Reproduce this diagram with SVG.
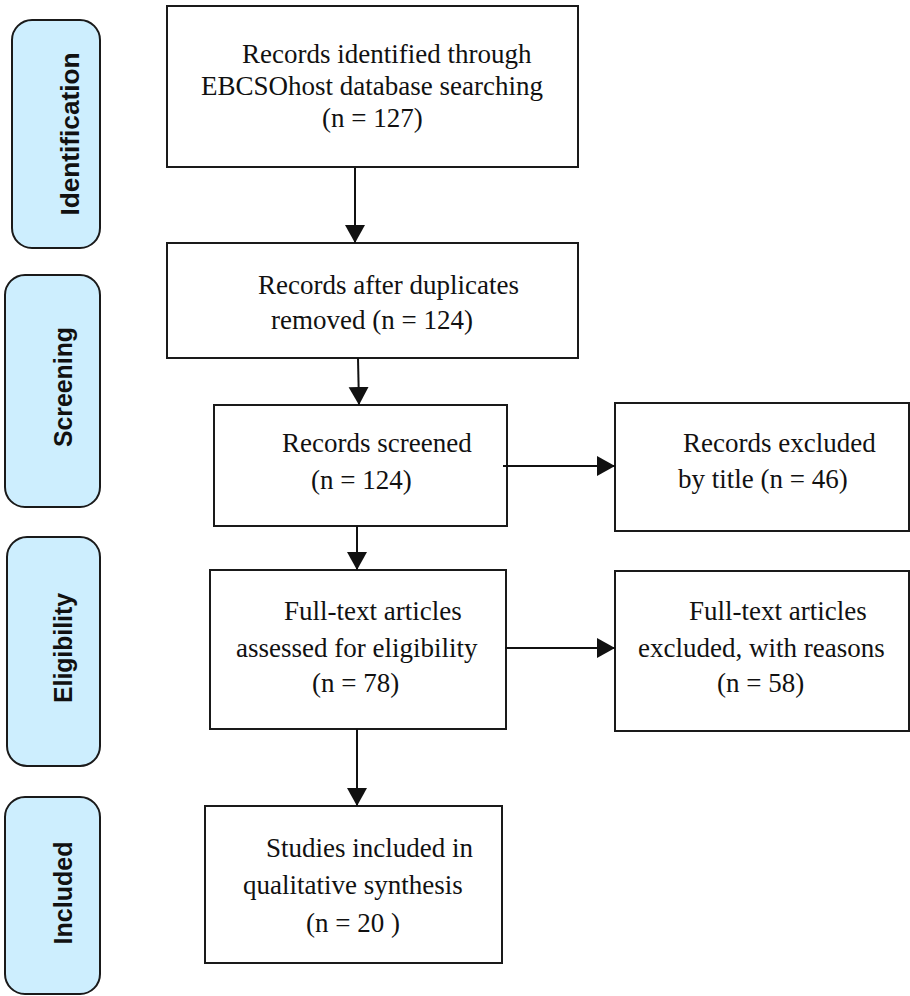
<svg xmlns="http://www.w3.org/2000/svg" width="910" height="996" viewBox="0 0 910 996">
<style>
.box{fill:#fff;stroke:#1a1a1a;stroke-width:2}
.pill{fill:#cdeefe;stroke:#1a1a1a;stroke-width:2}
.t{font-family:"Liberation Serif","Times New Roman",serif;font-size:27px;fill:#111}
.p{font-family:"Liberation Sans",Arial,sans-serif;font-weight:bold;font-size:26px;fill:#111}
.c{stroke:#111;stroke-width:2;fill:none}
</style>
<defs>
<marker id="ah" markerUnits="userSpaceOnUse" markerWidth="20" markerHeight="22" viewBox="0 0 20 22" refX="18" refY="11" orient="auto">
<path d="M0,1 L18,11 L0,21 Z" fill="#111"/>
</marker>
</defs>
<rect width="910" height="996" fill="#fff"/>
<g id="stage-identification">
<rect class="pill" x="12" y="20" width="88" height="228" rx="20"/>
<text class="p" transform="translate(79,134) rotate(-90)" text-anchor="middle" textLength="163" lengthAdjust="spacingAndGlyphs">Identification</text>
</g>
<g id="stage-screening">
<rect class="pill" x="5" y="275" width="95" height="232" rx="20"/>
<text class="p" transform="translate(72,387) rotate(-90)" text-anchor="middle" textLength="120" lengthAdjust="spacingAndGlyphs">Screening</text>
</g>
<g id="stage-eligibility">
<rect class="pill" x="7" y="537" width="93" height="229" rx="20"/>
<text class="p" transform="translate(72,648) rotate(-90)" text-anchor="middle" textLength="110" lengthAdjust="spacingAndGlyphs">Eligibility</text>
</g>
<g id="stage-included">
<rect class="pill" x="5" y="797" width="95" height="197" rx="20"/>
<text class="p" transform="translate(72,893) rotate(-90)" text-anchor="middle" textLength="103" lengthAdjust="spacingAndGlyphs">Included</text>
</g>
<g id="identified">
<rect class="box" x="167" y="6" width="411" height="161"/>
<text class="t" x="242" y="63">Records identified through</text>
<text class="t" x="201" y="95">EBCSOhost database searching</text>
<text class="t" x="322" y="127">(n = 127)</text>
</g>
<g id="deduplicated">
<rect class="box" x="167" y="243" width="411" height="115"/>
<text class="t" x="258" y="294">Records after duplicates</text>
<text class="t" x="271" y="329">removed (n = 124)</text>
</g>
<g id="screened">
<rect class="box" x="214" y="405" width="293" height="121"/>
<text class="t" x="282" y="452">Records screened</text>
<text class="t" x="311" y="489">(n = 124)</text>
</g>
<g id="excluded-title">
<rect class="box" x="615" y="403" width="294" height="128"/>
<text class="t" x="683" y="452">Records excluded</text>
<text class="t" x="678" y="488">by title (n = 46)</text>
</g>
<g id="fulltext">
<rect class="box" x="210" y="570" width="296" height="159"/>
<text class="t" x="284" y="620">Full-text articles</text>
<text class="t" x="236" y="657">assessed for eligibility</text>
<text class="t" x="312" y="692">(n = 78)</text>
</g>
<g id="excluded-reasons">
<rect class="box" x="615" y="571" width="294" height="160"/>
<text class="t" x="689" y="620">Full-text articles</text>
<text class="t" x="638" y="657">excluded, with reasons</text>
<text class="t" x="717" y="692">(n = 58)</text>
</g>
<g id="included">
<rect class="box" x="205" y="806" width="297" height="157"/>
<text class="t" x="266" y="857">Studies included in</text>
<text class="t" x="243" y="894">qualitative synthesis</text>
<text class="t" x="306" y="932">(n = 20 )</text>
</g>
<g id="connectors">
<line class="c" x1="355" y1="168" x2="355" y2="243" marker-end="url(#ah)"/>
<line class="c" x1="358" y1="358" x2="359" y2="405" marker-end="url(#ah)"/>
<line class="c" x1="503" y1="466" x2="615" y2="466" marker-end="url(#ah)"/>
<line class="c" x1="357" y1="526" x2="357" y2="570" marker-end="url(#ah)"/>
<line class="c" x1="505" y1="648" x2="615" y2="648" marker-end="url(#ah)"/>
<line class="c" x1="357" y1="729" x2="357" y2="806" marker-end="url(#ah)"/>
</g>
</svg>
